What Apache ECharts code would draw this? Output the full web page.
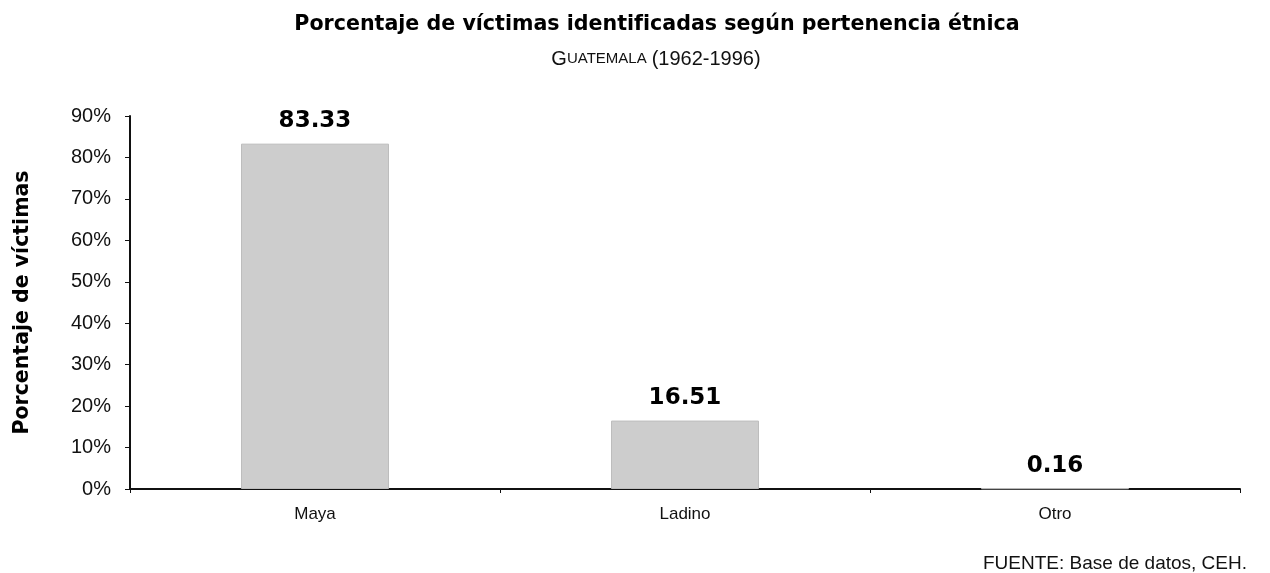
<!DOCTYPE html>
<html lang="es">
<head>
    <meta charset="UTF-8">
    <title>Porcentaje de víctimas</title>
    <script src="https://cdn.jsdelivr.net/npm/echarts@6/dist/echarts.min.js"></script>
</head>
<body style="margin:0;background:#fff;">
<div id="main" style="width:1270px;height:573px;"></div>
<script type="text/javascript">
    // datos
    var categorias = ['Maya', 'Ladino', 'Otro'];
    var porcentajes = [83.33, 16.51, 0.16];
    var ejeMax = 90;
    var ejePaso = 10;

    var myChart = echarts.init(document.getElementById('main'));
    myChart.setOption({
        backgroundColor: '#fff',
        title: [{
            text: 'Porcentaje de víctimas identificadas según pertenencia étnica',
            left: 652,
            top: 9,
            textAlign: 'center',
            textStyle: {fontFamily: 'DejaVu Sans, sans-serif', fontSize: 20.6, fontWeight: 'bold', color: '#000'}
        }, {
            text: '{a|G}{b|UATEMALA} {c|(1962-1996)}',
            left: 651,
            top: 44,
            textAlign: 'center',
            textStyle: {
                fontWeight: 'normal',
                rich: {
                    a: {fontFamily: 'Liberation Sans, sans-serif', fontSize: 20, fontWeight: 'normal', color: '#111'},
                    b: {fontFamily: 'Liberation Sans, sans-serif', fontSize: 15, fontWeight: 'normal', color: '#111'},
                    c: {fontFamily: 'Liberation Sans, sans-serif', fontSize: 20, fontWeight: 'normal', color: '#111'}
                }
            }
        }, {
            text: 'FUENTE: Base de datos, CEH.',
            right: 18,
            top: 549,
            textStyle: {fontFamily: 'Liberation Sans, sans-serif', fontSize: 19, fontWeight: 'normal', color: '#111'}
        }],
        grid: {left: 130, right: 30, top: 116, bottom: 84},
        xAxis: {
            type: 'category',
            data: categorias,
            axisLine: {lineStyle: {color: '#111', width: 2}},
            axisTick: {show: true, length: 4, lineStyle: {color: '#111'}},
            axisLabel: {fontFamily: 'Liberation Sans, Arial, sans-serif', fontSize: 17, color: '#111', margin: 17}
        },
        yAxis: {
            type: 'value',
            min: 0,
            max: ejeMax,
            interval: ejePaso,
            name: 'Porcentaje de víctimas',
            nameLocation: 'middle',
            nameGap: 97,
            nameRotate: 90,
            nameTextStyle: {fontFamily: 'DejaVu Sans, sans-serif', fontSize: 20.5, fontWeight: 'bold', color: '#000'},
            axisLine: {show: true, lineStyle: {color: '#111', width: 2}},
            axisTick: {show: true, length: 5, lineStyle: {color: '#111'}},
            splitLine: {show: false},
            axisLabel: {
                fontFamily: 'Liberation Sans, Arial, sans-serif',
                fontSize: 20,
                color: '#111',
                margin: 19,
                formatter: function (v) { return v + '%'; }
            }
        },
        series: [{
            type: 'bar',
            data: porcentajes,
            barWidth: 148,
            itemStyle: {color: '#cdcdcd', borderColor: '#bdbdbd', borderWidth: 1},
            label: {
                show: true,
                position: 'top',
                distance: 11,
                fontFamily: 'DejaVu Sans, sans-serif',
                fontSize: 23,
                fontWeight: 'bold',
                color: '#000',
                formatter: function (p) { return p.value.toFixed(2); }
            }
        }]
    });
</script>
</body>
</html>
